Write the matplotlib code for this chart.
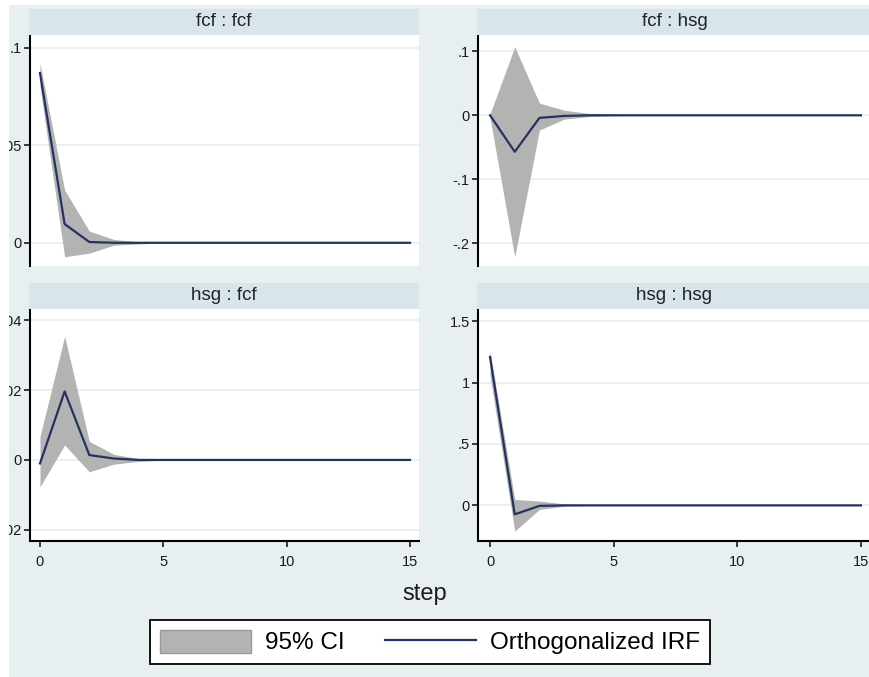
import matplotlib
matplotlib.use('Agg')
import matplotlib.pyplot as plt
from matplotlib.patches import Rectangle, Patch
from matplotlib.lines import Line2D

plt.rcParams['font.family'] = ['Liberation Sans', 'DejaVu Sans']

W, H = 869, 677

STEPS = [0, 1, 2, 3, 4, 5, 6, 7, 8, 9, 10, 11, 12, 13, 14, 15]

# impulse : response
FCF_FCF_IRF = [0.087, 0.0096, 0.0004, 0.0, 0.0, 0.0, 0.0, 0.0, 0.0, 0.0, 0.0, 0.0, 0.0, 0.0, 0.0, 0.0]
FCF_FCF_HI = [0.092, 0.027, 0.006, 0.0017, 0.0005, 0.0001, 0.0, 0.0, 0.0, 0.0, 0.0, 0.0, 0.0, 0.0, 0.0, 0.0]
FCF_FCF_LO = [0.080, -0.0072, -0.0053, -0.0012, -0.0006, -0.0001, 0.0, 0.0, 0.0, 0.0, 0.0, 0.0, 0.0, 0.0, 0.0, 0.0]

FCF_HSG_IRF = [0.0, -0.057, -0.004, -0.001, 0.0, 0.0, 0.0, 0.0, 0.0, 0.0, 0.0, 0.0, 0.0, 0.0, 0.0, 0.0]
FCF_HSG_HI = [0.002, 0.107, 0.019, 0.008, 0.003, 0.002, 0.0, 0.0, 0.0, 0.0, 0.0, 0.0, 0.0, 0.0, 0.0, 0.0]
FCF_HSG_LO = [-0.004, -0.221, -0.023, -0.006, -0.002, -0.0005, 0.0, 0.0, 0.0, 0.0, 0.0, 0.0, 0.0, 0.0, 0.0, 0.0]

HSG_FCF_IRF = [-0.001, 0.0196, 0.0014, 0.0004, 0.0, 0.0, 0.0, 0.0, 0.0, 0.0, 0.0, 0.0, 0.0, 0.0, 0.0, 0.0]
HSG_FCF_HI = [0.0067, 0.0354, 0.0053, 0.0016, 0.0004, 0.0001, 0.0, 0.0, 0.0, 0.0, 0.0, 0.0, 0.0, 0.0, 0.0, 0.0]
HSG_FCF_LO = [-0.0077, 0.0043, -0.0034, -0.0012, -0.0004, -0.0001, 0.0, 0.0, 0.0, 0.0, 0.0, 0.0, 0.0, 0.0, 0.0, 0.0]

HSG_HSG_IRF = [1.209, -0.073, -0.004, 0.0, 0.0, 0.0, 0.0, 0.0, 0.0, 0.0, 0.0, 0.0, 0.0, 0.0, 0.0, 0.0]
HSG_HSG_HI = [1.26, 0.049, 0.035, 0.013, 0.002, 0.0, 0.0, 0.0, 0.0, 0.0, 0.0, 0.0, 0.0, 0.0, 0.0, 0.0]
HSG_HSG_LO = [1.057, -0.209, -0.033, -0.0065, -0.001, 0.0, 0.0, 0.0, 0.0, 0.0, 0.0, 0.0, 0.0, 0.0, 0.0, 0.0]

XTICKS = [0, 5, 10, 15]

BG = '#e8eff1'
STRIP = '#d8e5ea'
GRID = '#e4edf0'
CI_COL = '#b3b3b3'
IRF_COL = '#26325e'


def px_rect(x0, y0, x1, y1):
    return [x0 / W, 1 - y1 / H, (x1 - x0) / W, (y1 - y0) / H]


# title, irf, lo, hi, yticks, yticklabels, ylim, plot box (px), strip box (px), xlim, bottom row
panels = [
    ('fcf : fcf', FCF_FCF_IRF, FCF_FCF_LO, FCF_FCF_HI,
     [0, 0.05, 0.1], ['0', '.05', '.1'], (-0.0119, 0.1065),
     (30, 35, 419, 266), (29, 9, 419, 35), (-0.405, 15.365), False),
    ('fcf : hsg', FCF_HSG_IRF, FCF_HSG_LO, FCF_HSG_HI,
     [-0.2, -0.1, 0, 0.1], ['-.2', '-.1', '0', '.1'], (-0.2355, 0.1255),
     (478, 35, 872, 266), (477, 9, 872, 35), (-0.486, 15.45), False),
    ('hsg : fcf', HSG_FCF_IRF, HSG_FCF_LO, HSG_FCF_HI,
     [-0.02, 0, 0.02, 0.04], ['-.02', '0', '.02', '.04'], (-0.0232, 0.0432),
     (30, 309, 419, 541), (29, 283, 419, 309), (-0.405, 15.365), True),
    ('hsg : hsg', HSG_HSG_IRF, HSG_HSG_LO, HSG_HSG_HI,
     [0, 0.5, 1, 1.5], ['0', '.5', '1', '1.5'], (-0.29, 1.599),
     (478, 309, 872, 541), (477, 283, 872, 309), (-0.486, 15.45), True),
]

fig = plt.figure(figsize=(W / 100, H / 100), dpi=100, facecolor=BG)

for title, irf, lo, hi, yt, ytl, ylim, box, sbox, xlim, bottom in panels:
    ax = fig.add_axes(px_rect(*box))
    ax.set_facecolor('white')
    ax.fill_between(STEPS, lo, hi, color=CI_COL, lw=0, zorder=2)
    ax.plot(STEPS, irf, color=IRF_COL, lw=1.6, zorder=3)
    ax.set_xlim(*xlim)
    ax.set_ylim(*ylim)
    ax.set_yticks(yt)
    ax.set_yticklabels(ytl)
    for y in yt:
        ax.axhline(y, color=GRID, lw=1.2, zorder=1)
    for s in ('top', 'right'):
        ax.spines[s].set_visible(False)
    ax.spines['left'].set_linewidth(1.5)
    ax.tick_params(axis='y', direction='out', length=4.5, width=1.2, pad=1.5,
                   labelsize=10.5, colors='#1a1a1a')
    if bottom:
        ax.spines['bottom'].set_linewidth(1.5)
        ax.set_xticks(XTICKS)
        ax.tick_params(axis='x', direction='out', length=4, width=1.2, pad=6,
                       labelsize=10.5, colors='#1a1a1a')
    else:
        ax.spines['bottom'].set_visible(False)
        ax.set_xticks([])

    sx = fig.add_axes(px_rect(*sbox))
    sx.set_facecolor(STRIP)
    sx.set_xticks([])
    sx.set_yticks([])
    for s in sx.spines.values():
        s.set_visible(False)
    sx.text(0.5, 0.5, title, ha='center', va='center', fontsize=13.5,
            color='#222222', transform=sx.transAxes)

fig.text(425 / W, 1 - 594 / H, 'step', ha='center', va='center', fontsize=17,
         color='#1a1a1a')

handles = [Patch(facecolor=CI_COL, edgecolor='#9a9a9a', lw=1.0),
           Line2D([], [], color=IRF_COL, lw=1.6)]
leg = fig.legend(handles, ['95% CI', 'Orthogonalized IRF'], ncol=2,
                 loc='center', bbox_to_anchor=(430 / W, 1 - 642 / H),
                 fontsize=17.5, frameon=True, fancybox=False, framealpha=1,
                 edgecolor='black', facecolor='white', handlelength=3.75,
                 handleheight=1.07, handletextpad=0.58, columnspacing=1.65,
                 borderpad=0.4, borderaxespad=0)
leg.get_frame().set_linewidth(1.3)

# white margins of the original screenshot crop
fig.add_artist(Rectangle((0, 0), 9 / W, 1, transform=fig.transFigure,
                         facecolor='white', lw=0, zorder=10))
fig.add_artist(Rectangle((0, 1 - 5 / H), 1, 5 / H, transform=fig.transFigure,
                         facecolor='white', lw=0, zorder=10))

fig.savefig('out.png', dpi=100, facecolor=BG)
